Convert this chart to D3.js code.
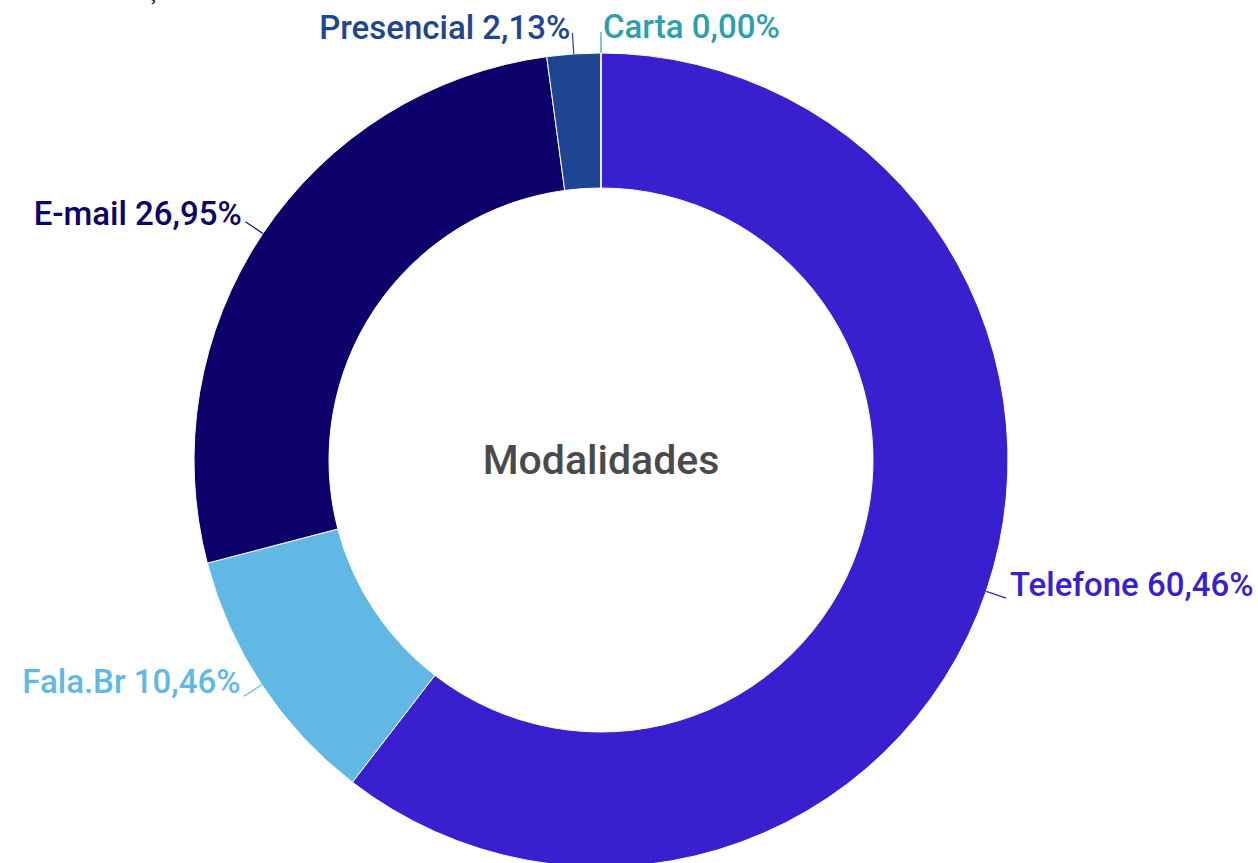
<!DOCTYPE html>
<html>
<head>
<meta charset="utf-8">
<script src="https://cdn.jsdelivr.net/npm/d3@7"></script>
<style>
  html, body { margin: 0; padding: 0; background: #fff; overflow: hidden; }
  svg { display: block; font-family: Roboto, "Noto Sans", sans-serif; }
</style>
</head>
<body>
<div id="chart"></div>
<script>
// slice order, clockwise from 12 o'clock
var categories = ["Telefone", "Fala.Br", "E-mail", "Presencial", "Carta"];
var shares = [60.46, 10.46, 26.95, 2.13, 0.00];
var colors = ["#3920cf", "#62b8e5", "#0c006b", "#1e4592", "#2a9fae"];
var centerLabel = "Modalidades";
var titleText = "Distribuição";

var width = 1258, height = 863,
    cx = 601, cy = 460,
    outerR = 407, innerR = 272,
    lineR = 428, labelR = 430;

var data = categories.map(function(c, i) { return {name: c, value: shares[i], color: colors[i]}; });

var svg = d3.select("#chart").append("svg")
    .attr("width", width)
    .attr("height", height);

// cut-off title above the chart, only its descender shows
var title = svg.append("text")
    .attr("y", -1)
    .attr("font-size", 22)
    .attr("fill", "#222")
    .text(titleText);
var ci = titleText.indexOf("ç");
title.attr("x", 152 - title.node().getSubStringLength(0, ci) - 5);

var pie = d3.pie().sort(null).value(function(d) { return d.value; });
var arc = d3.arc().innerRadius(innerR).outerRadius(outerR);
var arcs = pie(data);

var g = svg.append("g").attr("transform", "translate(" + cx + "," + cy + ")");

g.selectAll("path.slice")
  .data(arcs)
  .join("path")
  .attr("class", "slice")
  .attr("d", arc)
  .attr("fill", function(d) { return d.data.color; })
  .attr("stroke", "#fff")
  .attr("stroke-width", 1);

function mid(d) { return (d.startAngle + d.endAngle) / 2; }
function pt(a, r) { return [Math.sin(a) * r, -Math.cos(a) * r]; }
function right(d) { return Math.sin(mid(d)) >= -1e-9; }

// leader lines
g.selectAll("path.leader")
  .data(arcs)
  .join("path")
  .attr("class", "leader")
  .attr("fill", "none")
  .attr("stroke", function(d) { return d.data.color; })
  .attr("stroke-width", 1.2)
  .attr("d", function(d) {
      var a = mid(d), p0 = pt(a, outerR), p1 = pt(a, lineR);
      return d3.line()([p0, p1]);
  });

// labels: baseline a little inside the label radius so text sits on the leader
g.selectAll("text.lbl")
  .data(arcs)
  .join("text")
  .attr("class", "lbl")
  .attr("x", function(d) { return pt(mid(d), labelR)[0] + (right(d) ? 2 : -2); })
  .attr("y", function(d) { return pt(mid(d), labelR - 8)[1]; })
  .attr("text-anchor", function(d) { return right(d) ? "start" : "end"; })
  .attr("font-size", 33)
  .attr("font-weight", 500)
  .attr("fill", function(d) { return d.data.color; })
  .text(function(d) { return d.data.name + " " + d3.format(".2f")(d.data.value).replace(".", ",") + "%"; });

g.append("text")
  .attr("text-anchor", "middle")
  .attr("dy", "0.35em")
  .attr("font-size", 41)
  .attr("font-weight", 500)
  .attr("fill", "#4a4a4a")
  .text(centerLabel);
</script>
</body>
</html>
